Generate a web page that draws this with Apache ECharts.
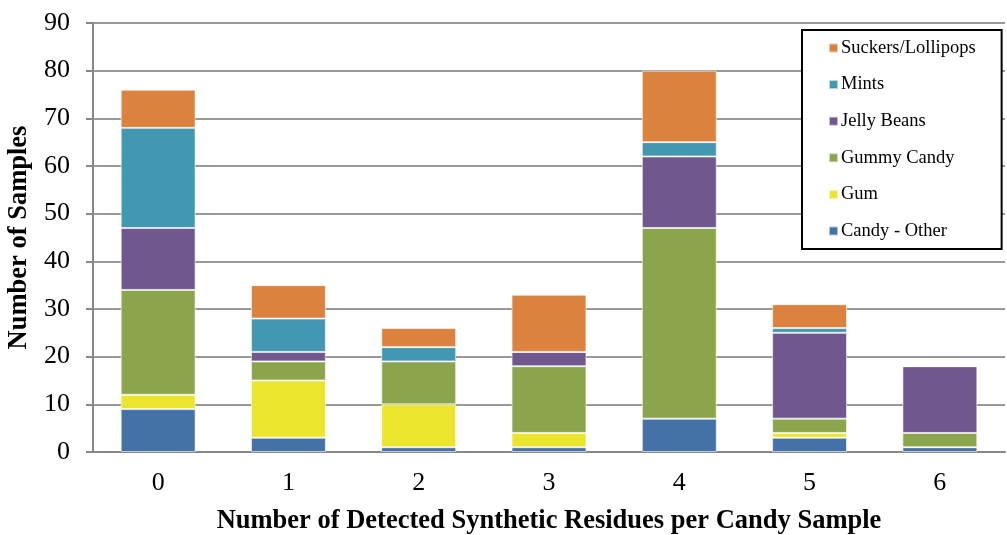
<!DOCTYPE html>
<html>
<head>
<meta charset="utf-8">
<script src="https://cdn.jsdelivr.net/npm/echarts@6/dist/echarts.min.js"></script>
<style>
  html, body { margin: 0; padding: 0; background: #fff; }
  #chart { width: 1007px; height: 535px; }
</style>
</head>
<body>
<div id="chart"></div>
<script>
// Number of detected synthetic residues per candy sample
const categories = ['0', '1', '2', '3', '4', '5', '6'];

const candyOther = [9, 3, 1, 1, 7, 3, 1];
const gum        = [3, 12, 9, 3, 0, 1, 0];
const gummyCandy = [22, 4, 9, 14, 40, 3, 3];
const jellyBeans = [13, 2, 0, 3, 15, 18, 14];
const mints      = [21, 7, 3, 0, 3, 1, 0];
const suckers    = [8, 7, 4, 12, 15, 5, 0];

const seriesDefs = [
  { name: 'Candy - Other',     data: candyOther, color: '#4472a8' },
  { name: 'Gum',               data: gum,        color: '#ece52d' },
  { name: 'Gummy Candy',       data: gummyCandy, color: '#8ba54d' },
  { name: 'Jelly Beans',       data: jellyBeans, color: '#70588e' },
  { name: 'Mints',             data: mints,      color: '#4298b0' },
  { name: 'Suckers/Lollipops', data: suckers,    color: '#db833e' }
];

const serif = '"Liberation Serif", "DejaVu Serif", serif';
const chart = echarts.init(document.getElementById('chart'));

chart.setOption({
  animation: false,
  textStyle: { fontFamily: serif },
  grid: { left: 93, right: 2, top: 23, bottom: 83, containLabel: false, outerBoundsMode: 'none' },
  legend: {
    orient: 'vertical',
    left: 802,
    top: 30,
    padding: [8, 26, 8, 26],
    itemGap: 16.6,
    itemWidth: 9,
    itemHeight: 9,
    icon: 'rect',
    borderColor: '#000',
    borderWidth: 2,
    backgroundColor: '#fff',
    data: seriesDefs.map(s => s.name).reverse(),
    textStyle: { fontFamily: serif, fontSize: 18.5, lineHeight: 20, color: '#000', padding: [0, 0, 0, -2] }
  },
  xAxis: {
    type: 'category',
    data: categories,
    name: 'Number of Detected Synthetic Residues per Candy Sample',
    nameLocation: 'middle',
    nameGap: 56,
    nameTextStyle: { fontFamily: serif, fontSize: 26.5, fontWeight: 'bold', color: '#000' },
    axisLine: { lineStyle: { color: '#888', width: 2 } },
    axisTick: { show: false },
    axisLabel: { fontFamily: serif, fontSize: 26, color: '#000', margin: 18 }
  },
  yAxis: {
    type: 'value',
    min: 0,
    max: 90,
    interval: 10,
    name: 'Number of Samples',
    nameLocation: 'middle',
    nameGap: 58,
    nameTextStyle: { fontFamily: serif, fontSize: 26.5, fontWeight: 'bold', color: '#000' },
    axisLine: { show: true, lineStyle: { color: '#888', width: 2 } },
    axisTick: { show: true, length: 7, lineStyle: { color: '#888', width: 2 } },
    axisLabel: { fontFamily: serif, fontSize: 26, color: '#000', margin: 23 },
    splitLine: { lineStyle: { color: '#999', width: 2 } }
  },
  series: seriesDefs.map(s => ({
    name: s.name,
    type: 'bar',
    stack: 'total',
    barWidth: '57.5%',
    data: s.data,
    itemStyle: { color: s.color, borderColor: 'rgba(255,255,255,0.6)', borderWidth: 1 }
  }))
});
</script>
</body>
</html>
